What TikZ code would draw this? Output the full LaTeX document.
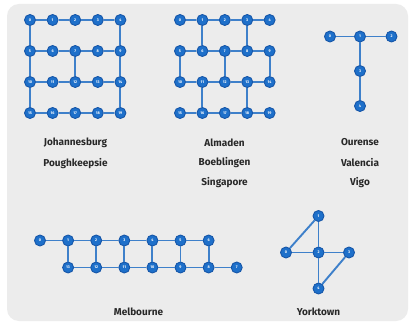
\documentclass[tikz,border=0pt]{standalone}
\usepackage{fontspec}
\setmainfont{Fira Sans}
\definecolor{panelgray}{RGB}{236,236,236}
\definecolor{qfill}{RGB}{30,112,202}
\definecolor{qborder}{RGB}{22,86,168}
\definecolor{qedge}{RGB}{62,128,202}
\definecolor{labeltext}{RGB}{40,40,40}
\tikzset{
  qb/.style={circle, fill=qfill, draw=qborder, line width=0.9pt, minimum size=11pt,
    inner sep=0pt, text=white, font=\fontsize{3.8}{4}\selectfont\bfseries},
  edge/.style={draw=qedge, line width=1.9pt},
  devname/.style={font=\fontsize{10}{11}\selectfont\bfseries, text=labeltext, anchor=center}
}
\begin{document}
\begin{tikzpicture}[x=1pt,y=-1pt]
\useasboundingbox (0,0) rectangle (411,323);
\fill[white] (0,0) rectangle (411,323);
\fill[panelgray, rounded corners=12pt] (7,4) rectangle (408,321);

% 20-qubit lattice: Johannesburg / Poughkeepsie
\foreach \r in {0,...,3}{
  \foreach \c in {0,...,4}{
    \pgfmathtruncatemacro\k{5*\r+\c}
    \node[qb] (j\k) at ({30+22.6*\c},{20+31*\r}) {\k};
  }
}
\foreach \a/\b in {0/1,1/2,2/3,3/4,0/5,4/9,5/6,6/7,7/8,8/9,5/10,7/12,9/14,
  10/11,11/12,12/13,13/14,10/15,14/19,15/16,16/17,17/18,18/19}
  \draw[edge] (j\a) -- (j\b);
\node[devname] (jname1) at (75.5,142.5) {Johannesburg};
\node[devname] (jname2) at (75.5,163.5) {Poughkeepsie};

% 20-qubit lattice: Almaden / Boeblingen / Singapore
\foreach \r in {0,...,3}{
  \foreach \c in {0,...,4}{
    \pgfmathtruncatemacro\k{5*\r+\c}
    \node[qb] (a\k) at ({180+22.4*\c},{20+31*\r}) {\k};
  }
}
\foreach \a/\b in {0/1,1/2,2/3,3/4,1/6,3/8,5/6,6/7,7/8,8/9,5/10,7/12,9/14,
  10/11,11/12,12/13,13/14,11/16,13/18,15/16,16/17,17/18,18/19}
  \draw[edge] (a\a) -- (a\b);
\node[devname] (aname1) at (224.5,142.5) {Almaden};
\node[devname] (aname2) at (224.5,162.5) {Boeblingen};
\node[devname] (aname3) at (224.5,182.5) {Singapore};

% 5-qubit T: Ourense / Valencia / Vigo
\node[qb] (o0) at (330,36.5) {0};
\node[qb] (o1) at (360,36.5) {1};
\node[qb] (o2) at (391.5,36.5) {2};
\node[qb] (o3) at (360,71) {3};
\node[qb] (o4) at (360,106) {4};
\foreach \a/\b in {0/1,1/2,1/3,3/4}
  \draw[edge] (o\a) -- (o\b);
\node[devname] (oname1) at (360,142.5) {Ourense};
\node[devname] (oname2) at (360,162.5) {Valencia};
\node[devname] (oname3) at (360,182.5) {Vigo};

% 14-qubit ladder: Melbourne
\foreach \i in {0,...,6}
  \node[qb] (m\i) at ({40+28.1*\i},240.5) {\i};
\foreach \i in {7,...,13}
  \node[qb] (m\i) at ({68.1+28.1*(13-\i)},267.5) {\i};
\foreach \a/\b in {0/1,1/2,2/3,3/4,4/5,5/6,13/12,12/11,11/10,10/9,9/8,8/7,
  1/13,2/12,3/11,4/10,5/9,6/8}
  \draw[edge] (m\a) -- (m\b);
\node[devname] (mname) at (138.5,311.5) {Melbourne};

% 5-qubit bowtie: Yorktown
\node[qb] (y0) at (286,252.5) {0};
\node[qb] (y1) at (318.5,216) {1};
\node[qb] (y2) at (318.5,252.5) {2};
\node[qb] (y3) at (349,252.5) {3};
\node[qb] (y4) at (318.5,288.5) {4};
\foreach \a/\b in {0/1,1/2,0/2,2/3,2/4,3/4}
  \draw[edge] (y\a) -- (y\b);
\node[devname] (yname) at (318.5,311.5) {Yorktown};
\end{tikzpicture}
\end{document}
